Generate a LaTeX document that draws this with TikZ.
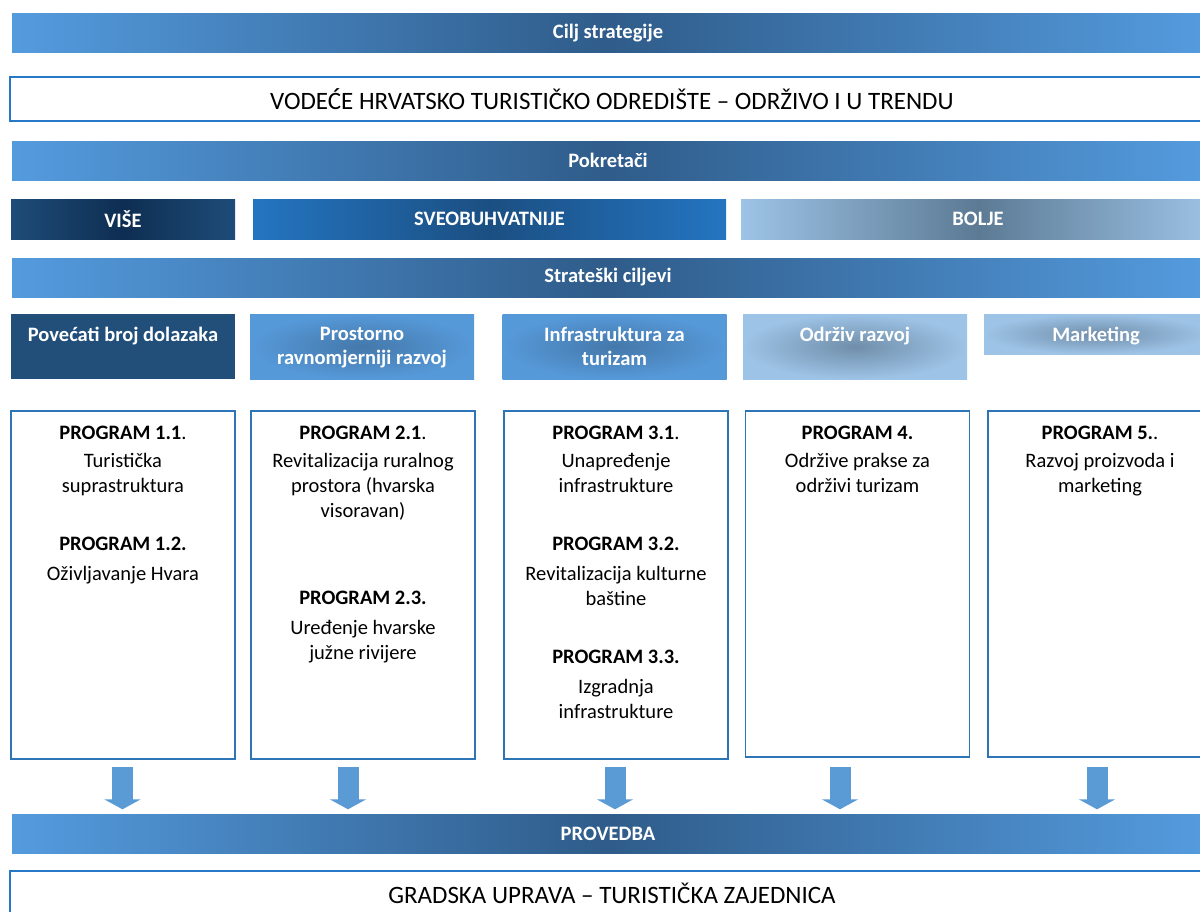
\documentclass[tikz,border=0pt]{standalone}
\usepackage{fontspec}
\setmainfont{Carlito}
\usetikzlibrary{arrows.meta}

\definecolor{barlight}{RGB}{84,155,222}
\definecolor{bardark}{RGB}{47,92,138}
\definecolor{navyedge}{RGB}{30,76,120}
\definecolor{navymid}{RGB}{14,46,82}
\definecolor{sveoedge}{RGB}{36,117,193}
\definecolor{sveomid}{RGB}{27,79,130}
\definecolor{paleblue}{RGB}{157,195,230}
\definecolor{palemid}{RGB}{92,122,148}
\definecolor{palespot}{RGB}{112,142,170}
\definecolor{goaldark}{RGB}{33,79,122}
\definecolor{goalblue}{RGB}{86,153,217}
\definecolor{goalmid}{RGB}{68,120,170}
\definecolor{boxline}{RGB}{46,117,182}
\definecolor{titleline}{RGB}{40,120,200}
\definecolor{arrowfill}{RGB}{91,155,213}

\begin{document}
\begin{tikzpicture}[x=1pt,y=-1pt,
    bar/.style={rectangle, inner sep=0pt, minimum width=1192pt, minimum height=39pt,
      left color=barlight, right color=barlight, middle color=bardark,
      text=white, font=\bfseries\fontsize{20.5}{24}\selectfont},
    titlebox/.style={rectangle, draw=titleline, line width=1.6pt, inner sep=0pt,
      minimum width=1204pt, minimum height=44pt, font=\fontsize{25}{30}\selectfont},
    driver/.style={rectangle, inner sep=0pt, minimum height=40pt,
      text=white, font=\bfseries\fontsize{20.5}{24}\selectfont},
    goal/.style={rectangle, inner sep=0pt, minimum width=224pt},
    goaltext/.style={anchor=north, inner sep=0pt, align=center, text=white,
      font=\bfseries\fontsize{20.5}{24}\selectfont},
    progbox/.style={rectangle, draw=boxline, line width=1.3pt, inner sep=0pt, minimum width=224pt},
    progtext/.style={anchor=north, inner sep=0pt, align=center, font=\fontsize{20.5}{25}\selectfont},
    downarrow/.style={draw=arrowfill, line width=21pt, -{Triangle[width=36pt,length=10pt]}, shorten >=5pt}
  ]
  \useasboundingbox[fill=white] (0,0) rectangle (1200,911);

  % Cilj strategije
  \node[bar] (cilj) at (608,33) {Cilj strategije};
  \node[titlebox] (vizija) at (612,99) {VODEĆE HRVATSKO TURISTIČKO ODREDIŠTE – ODRŽIVO I U TRENDU};

  % Pokretaci
  \node[bar] (pokretaci) at (608,160.5) {Pokretači};
  \node[driver, minimum width=224pt, left color=navyedge, right color=navyedge, middle color=navymid] (vise) at (123,219) {VIŠE};
  \node[driver, minimum width=473pt, left color=sveoedge, right color=sveoedge, middle color=sveomid] (sveo) at (489.5,219) {SVEOBUHVATNIJE};
  \node[driver, minimum width=474pt, left color=paleblue, right color=paleblue, middle color=palemid] (bolje) at (978,219) {BOLJE};

  % Strateski ciljevi
  \node[bar] (ciljevi) at (608,277.5) {Strateški ciljevi};
  \node[goal, minimum height=65pt, fill=goaldark] (g1) at (123,346.5) {};
  \node[goal, minimum height=65pt, inner color=goalmid, outer color=goalblue] (g2) at (362,346.5) {};
  \node[goal, minimum height=65pt, inner color=goalmid, outer color=goalblue] (g3) at (614.5,346.5) {};
  \node[goal, minimum height=65pt, inner color=palespot, outer color=paleblue] (g4) at (855,346.5) {};
  \node[goal, minimum height=40pt, inner color=palespot, outer color=paleblue] (g5) at (1096,334) {};
  \node[goaltext] (g1t) at ([yshift=-13pt]g1.north) {Povećati broj dolazaka};
  \node[goaltext] (g2t) at ([yshift=-13pt]g2.north) {Prostorno\\ravnomjerniji razvoj};
  \node[goaltext] (g3t) at ([yshift=-13pt]g3.north) {Infrastruktura za\\turizam};
  \node[goaltext] (g4t) at ([yshift=-13pt]g4.north) {Održiv razvoj};
  \node[goaltext] (g5t) at ([yshift=-13pt]g5.north) {Marketing};

  % Programi
  \node[progbox, minimum height=348pt] (p1) at (123,585) {};
  \node[progbox, minimum height=348pt] (p2) at (363,585) {};
  \node[progbox, minimum height=348pt] (p3) at (616,585) {};
  \node[progbox, minimum height=346pt] (p4) at (857.5,584) {};
  \node[progbox, minimum height=346pt] (p5) at (1100,584) {};
  \node[progtext] (p1t) at ([yshift=-15pt]p1.north) {\textbf{PROGRAM 1.1}.\\[3pt]Turistička\\suprastruktura\\[33pt]%
    \textbf{PROGRAM 1.2.}\\[5pt]Oživljavanje Hvara};
  \node[progtext] (p2t) at ([yshift=-15pt]p2.north) {\textbf{PROGRAM 2.1}.\\[3pt]Revitalizacija ruralnog\\prostora (hvarska\\visoravan)\\[62pt]%
    \textbf{PROGRAM 2.3.}\\[5pt]Uređenje hvarske\\južne rivijere};
  \node[progtext] (p3t) at ([yshift=-15pt]p3.north) {\textbf{PROGRAM 3.1}.\\[3pt]Unapređenje\\infrastrukture\\[33pt]%
    \textbf{PROGRAM 3.2.}\\[5pt]Revitalizacija kulturne\\baštine\\[33pt]%
    \textbf{PROGRAM 3.3.}\\[5pt]Izgradnja\\infrastrukture};
  \node[progtext] (p4t) at ([yshift=-15pt]p4.north) {\textbf{PROGRAM 4.}\\[3pt]Održive prakse za\\održivi turizam};
  \node[progtext] (p5t) at ([yshift=-15pt]p5.north) {\textbf{PROGRAM 5.}.\\[3pt]Razvoj proizvoda i\\marketing};

  % Provedba
  \node[bar] (provedba) at (608,834) {PROVEDBA};
  \node[titlebox] (uprava) at (612,893) {GRADSKA UPRAVA – TURISTIČKA ZAJEDNICA};

  % Arrows
  \coordinate (a1) at (122.5,767);
  \coordinate (a2) at (348,767);
  \coordinate (a3) at (615,767);
  \coordinate (a4) at (840,767);
  \coordinate (a5) at (1097,767);
  \foreach \i in {1,...,5}
    \draw[downarrow] (a\i) -- (a\i |- provedba.north);
\end{tikzpicture}
\end{document}
